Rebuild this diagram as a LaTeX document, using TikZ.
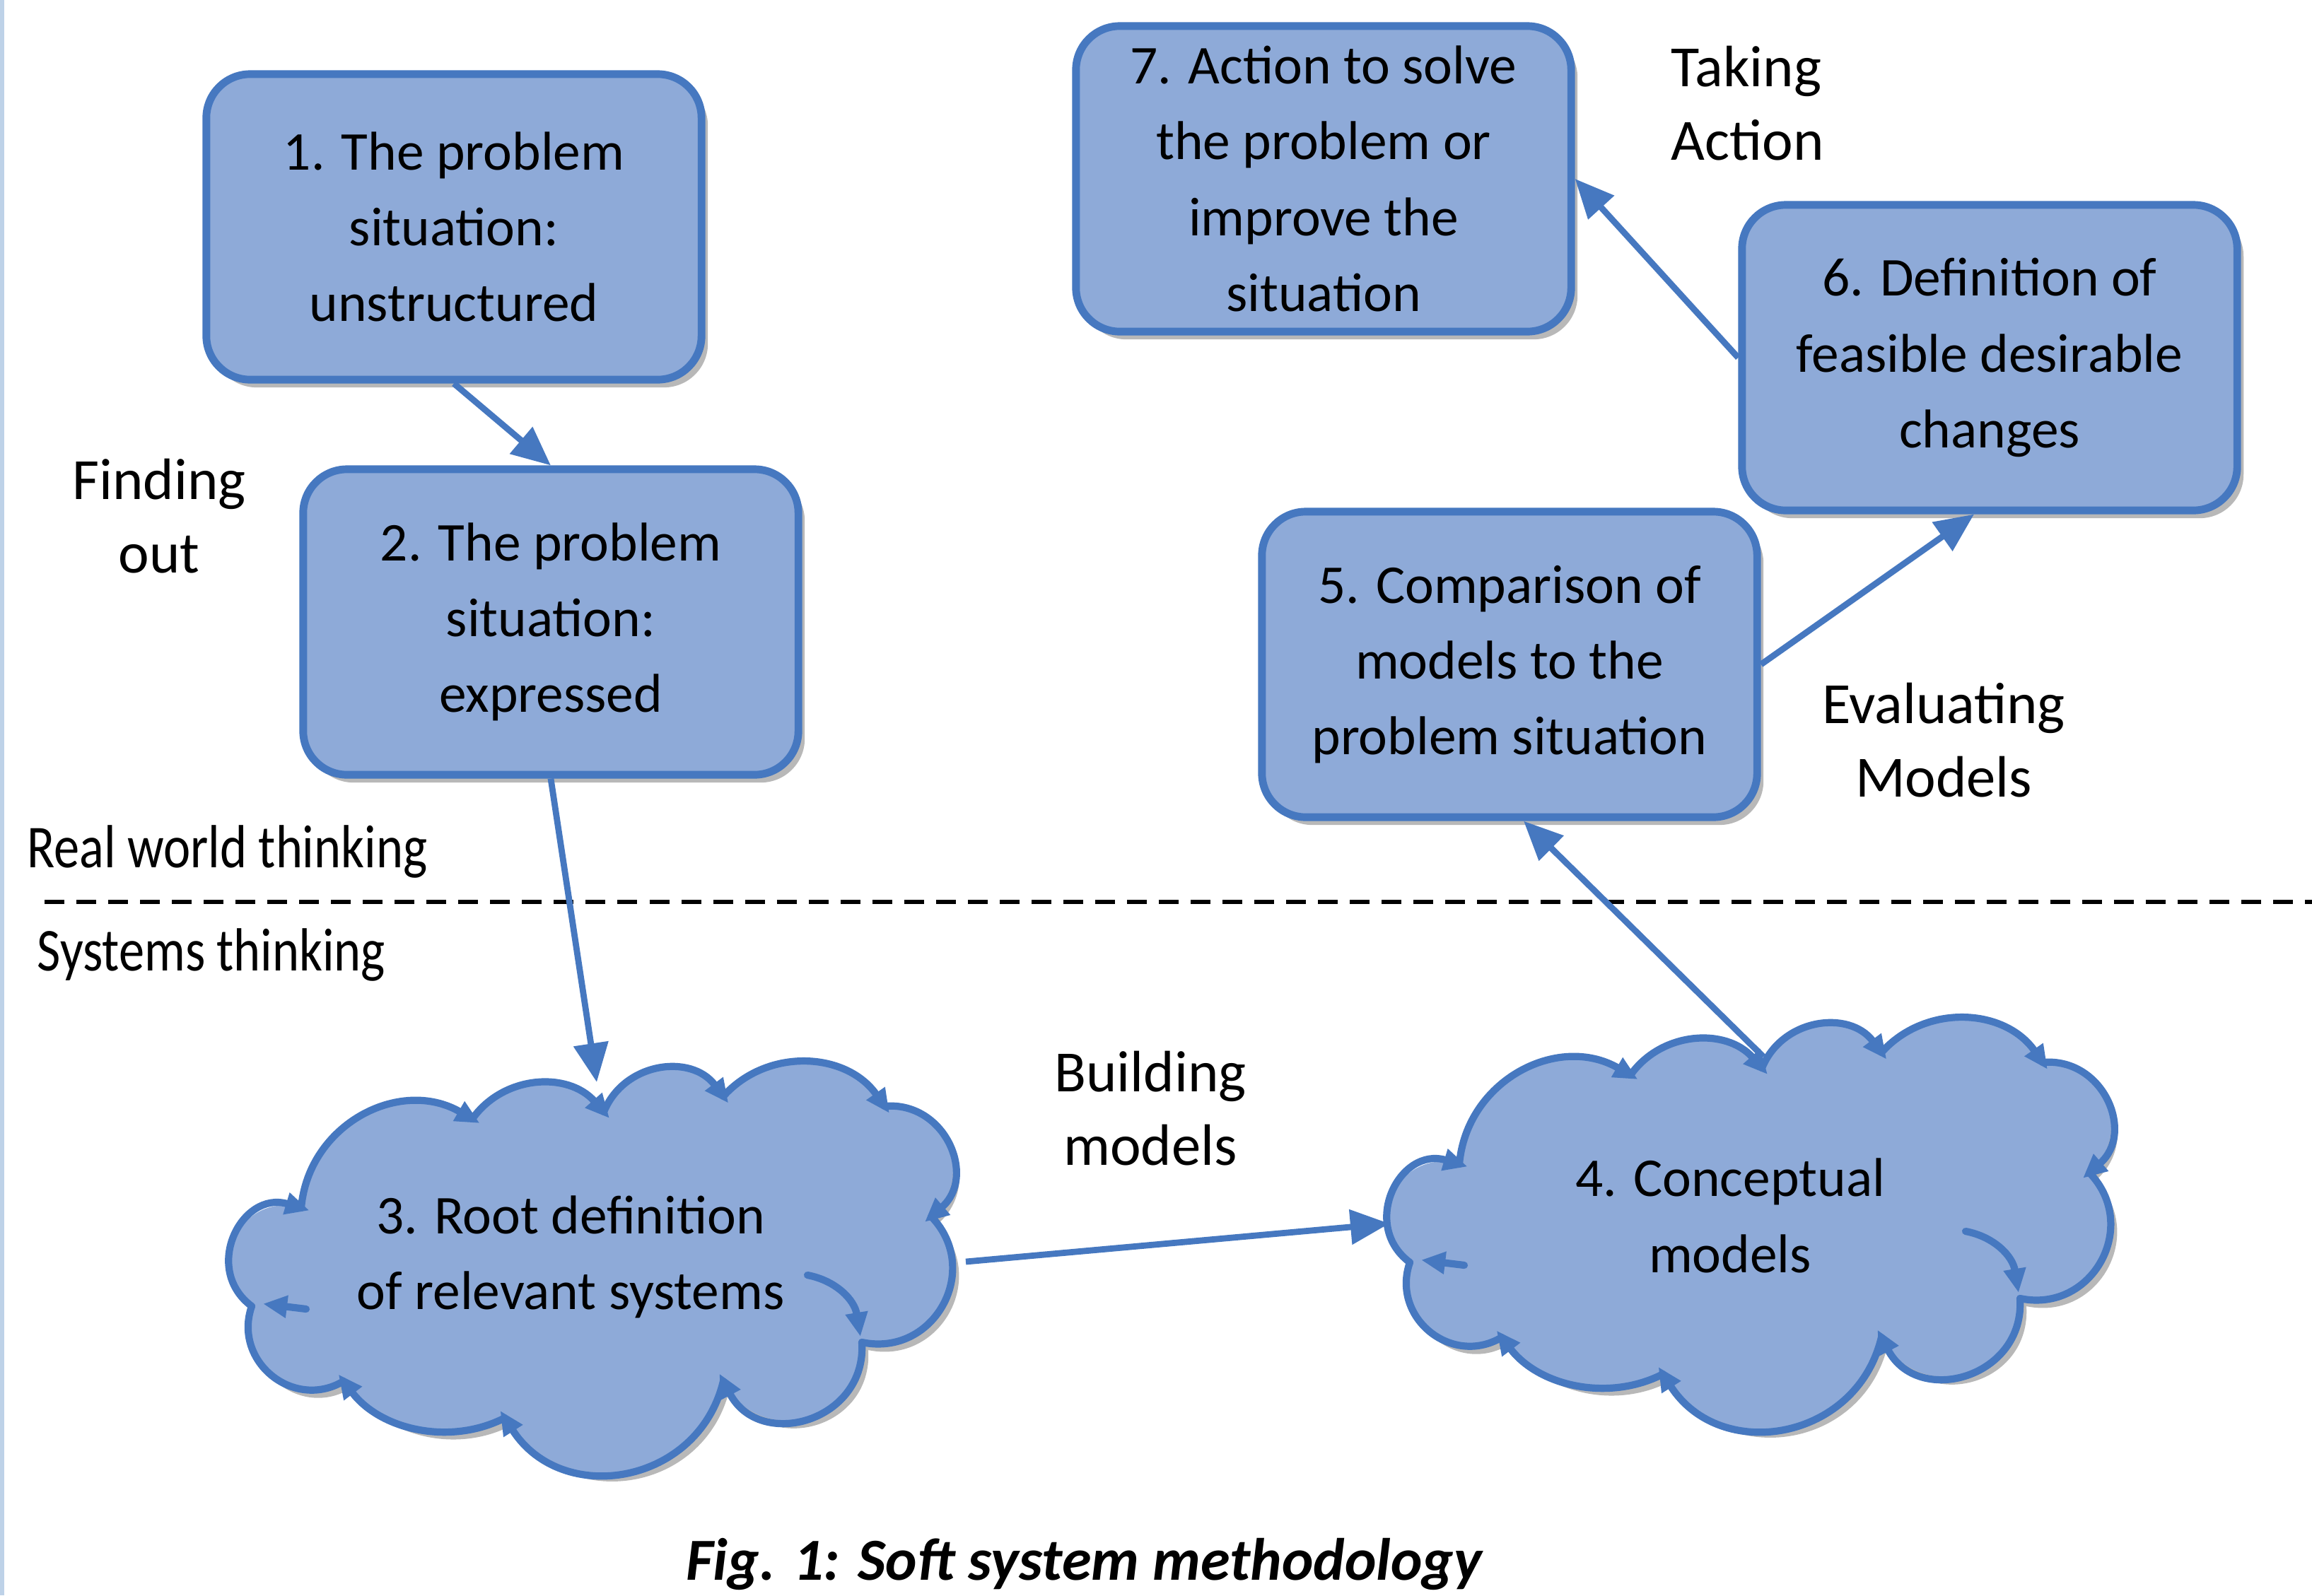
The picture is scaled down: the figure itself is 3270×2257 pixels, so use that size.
\documentclass[tikz,border=0pt]{standalone}
\usepackage{fontspec}
\setmainfont{Carlito}
\usetikzlibrary{arrows.meta,shadows,calc}
\definecolor{boxfill}{RGB}{142,170,216}
\definecolor{boxline}{RGB}{70,120,192}
\definecolor{edgeblue}{RGB}{190,210,232}
\tikzset{
  softshadow/.style={drop shadow={shadow xshift=0.09cm, shadow yshift=-0.11cm, opacity=0.28, fill=black}},
  stepbox/.style={draw=boxline, line width=3.1pt, fill=boxfill, rounded corners=0.62cm,
    minimum width=7.0cm, minimum height=4.32cm, align=center, inner sep=0pt,
    font=\fontsize{22}{30.5}\selectfont, softshadow},
  cloudtext/.style={align=center, inner sep=0pt, font=\fontsize{22}{30.5}\selectfont},
  stage/.style={align=center, inner sep=0pt, font=\fontsize{23.5}{29.6}\selectfont},
  zone/.style={anchor=west, inner sep=0pt, font=\fontsize{24.5}{28}\selectfont},
  caption/.style={inner sep=0pt, font=\fontsize{24}{28}\selectfont\bfseries\itshape},
  flow/.style={draw=boxline, line width=2.5pt, -{Triangle[length=0.55cm,width=0.48cm]}},
  puffline/.style={draw=boxline, line width=2.9pt, line cap=round},
  puffarrow/.style={puffline, -{Triangle[length=0.34cm,width=0.3cm]}, shorten >=-0.12cm},
  divider/.style={draw=black, line width=1.9pt, dash pattern=on 0.28cm off 0.17cm},
  puffcloud/.pic={
    \coordinate (q1) at (-419,-88);
    \coordinate (q2) at (-177,-214);
    \coordinate (q3) at (9,-224);
    \coordinate (q4) at (178,-246);
    \coordinate (q5) at (406,-232);
    \coordinate (q6) at (472,-76);
    \coordinate (q7) at (374,102);
    \coordinate (q8) at (178,157);
    \coordinate (q9) at (-131,209);
    \coordinate (q10) at (-359,157);
    \coordinate (q11) at (-489,51);
    \fill[boxfill, softshadow] (q1) to[bend left=57.6,looseness=1.11] (q2)
      to[bend left=51.6,looseness=1.05] (q3)
      to[bend left=60.5,looseness=1.14] (q4)
      to[bend left=51.5,looseness=1.05] (q5)
      to[bend left=72,looseness=1.30] (q6)
      to[bend left=73,looseness=1.32] (q7)
      to[bend left=78,looseness=1.41] (q8)
      to[bend left=67,looseness=1.23] (q9)
      to[bend left=40,looseness=0.95] (q10)
      to[bend left=70,looseness=1.26] (q11)
      to[bend left=80,looseness=1.45] (q1) -- cycle;
    \foreach \a/\b/\g/\l/\t in {1/2/57.6/1.11/puffarrow, 2/3/51.6/1.05/puffarrow,
        3/4/60.5/1.14/puffarrow, 4/5/51.5/1.05/puffarrow, 5/6/72/1.30/puffarrow,
        6/7/73/1.32/puffline, 7/8/78/1.41/puffarrow, 8/9/67/1.23/puffarrow,
        9/10/40/0.95/puffarrow, 10/11/70/1.26/puffline, 11/1/80/1.45/puffarrow}
      \draw[\t] (q\a) to[bend left=\g,looseness=\l] (q\b);
    \draw[puffarrow] (297,7) to[bend left=35] (370,82);
    \draw[puffarrow] (-412,55) -- (-461,49);
  }
}
\begin{document}
\begin{tikzpicture}[x=0.01cm, y=-0.01cm]
  \fill[white] (0,0) rectangle (3270,2257);
  \useasboundingbox (0,0) rectangle (3270,2257);
  \draw[edgeblue, line width=1.6pt] (3,0) -- (3,2257);

  % dashed divider
  \coordinate (dashL) at (63,1276);
  \coordinate (dashR) at (3270,1276);
  \draw[divider] (dashL) -- (dashR);
  \node[zone] (realworld) at (38,1205) {\scalebox{0.84}[1]{Real world thinking}};
  \node[zone] (systems) at (52,1351) {\scalebox{0.84}[1]{Systems thinking}};

  % clouds
  \pic at (845,1797) {puffcloud};
  \node[cloudtext] (cloud3) at (807,1778) {3. Root definition\\of relevant systems};
  \pic at (2483,1735) {puffcloud};
  \node[cloudtext] (cloud4) at (2447,1720) {4. Conceptual\\models};

  % boxes
  \node[stepbox] (box1) at (642,321) {1. The problem\\situation:\\unstructured};
  \node[stepbox] (box2) at (779,880) {2. The problem\\situation:\\expressed};
  \node[stepbox] (box7) at (1872,253) {7. Action to solve\\the problem or\\improve the\\situation};
  \node[stepbox] (box6) at (2814,506) {6. Definition of\\feasible desirable\\changes};
  \node[stepbox] (box5) at (2135,940) {5. Comparison of\\models to the\\problem situation};

  % stage labels
  \node[stage] (finding) at (225,730) {Finding\\out};
  \node[stage, align=left, anchor=west] (taking) at (2363,146) {Taking\\Action};
  \node[stage] (evaluating) at (2749,1047) {Evaluating\\Models};
  \node[stage] (building) at (1627,1568) {Building\\models};

  % connectors
  \draw[flow] (box1.south) -- (box2.north);
  \draw[flow] (box2.south) -- ($(cloud3)+(37,-247)$);
  \draw[flow] ($(cloud3)+(559,7)$) -- ($(cloud4)+(-482,11)$);
  \draw[flow] ($(cloud4)+(47,-225)$) -- ($(box5.south)+(20,0)$);
  \draw[flow] (box5.east) -- ($(box6.south)+(-22,0)$);
  \draw[flow] (box6.west) -- (box7.east);

  % caption
  \node[caption] (caption) at (1533,2213) {Fig. 1: Soft system methodology};
\end{tikzpicture}
\end{document}
